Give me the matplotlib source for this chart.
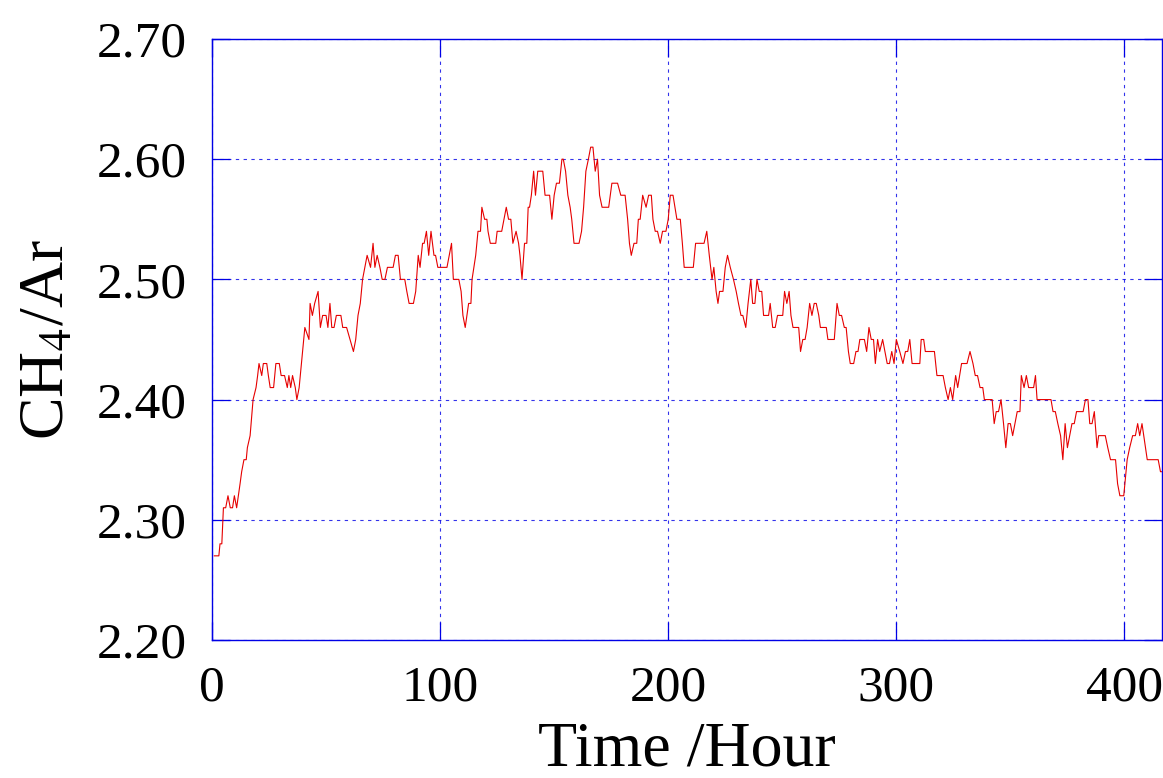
import matplotlib
matplotlib.use("Agg")
import matplotlib.pyplot as plt

plt.rcParams['font.family'] = ['Liberation Serif', 'DejaVu Serif']
plt.rcParams['mathtext.fontset'] = 'stix'

# Elapsed time (hours) and measured CH4/Ar ratio
hours = [
    1, 3, 3.5, 4.3, 5, 6, 7, 8, 9, 9.8, 10.8, 12.3, 13, 14, 15, 15.5, 16.7, 18,
    19.3, 20, 20.6, 21.8, 22.5, 24, 24.7, 25.5, 27, 28, 29.5, 30.3, 31.8, 33,
    33.7, 34.5, 35.3, 36.5, 37.2, 38.2, 40.7, 42.5, 43, 44, 45, 46.5, 47.5,
    48.5, 50, 50.8, 51.7, 52.5, 53.5, 54.5, 56.5, 57.3, 59, 60.5, 62, 63, 64,
    65, 66, 67, 68, 69.5, 70.6, 71.4, 72.4, 73.6, 74.6, 75.8, 76.9, 79.4, 80.4,
    81.6, 82.6, 84.5, 85.4, 86.4, 88.3, 89.3, 90.4, 91.2, 92.3, 93, 94, 95, 96,
    97.3, 98, 99, 103, 104, 105, 105.8, 108.2, 109.2, 110, 111, 112.5, 113.5,
    114, 115.6, 116.6, 117.7, 118.3, 119.5, 120.5, 121, 122, 124.4, 125, 127,
    128, 129, 130, 131, 131.9, 133.3, 134.4, 135, 135.9, 137, 138, 138.6,
    139.2, 140, 141, 141.8, 142.8, 144, 145, 146, 148, 149, 150, 151, 152.3,
    153.4, 154, 155, 156, 157, 157.7, 158.7, 160.9, 162, 162.9, 163.9, 165,
    166, 167, 168, 169, 169.9, 171, 173.9, 175.3, 177.8, 179.2, 181.1, 182.2,
    183, 183.8, 185, 186.2, 186.9, 187.7, 188.8, 190.3, 191.4, 192.6, 193.3,
    194.3, 195.3, 196.5, 197.5, 199, 200, 200.9, 202.1, 203.8, 205.3, 206.2,
    207, 211, 212, 215.7, 216.9, 218, 219.2, 220, 221, 221.8, 222.5, 224, 225,
    226, 227.2, 228.6, 229.8, 230.8, 231.9, 232.7, 234, 235, 236.2, 237, 238,
    238.9, 239.9, 241, 241.8, 244, 244.7, 245.8, 246.9, 247.9, 250.2, 251, 252,
    253, 253.8, 254.7, 257.2, 258, 259, 260, 260.9, 262, 263, 264, 264.9, 266,
    266.7, 269.3, 270, 272.8, 274, 275, 276, 277.2, 278, 279, 279.8, 281.3,
    282.3, 283.2, 284, 286, 287, 288, 289, 290, 290.8, 291.8, 292.7, 294, 295,
    296, 297, 298, 299, 300, 301.5, 302.9, 304, 305, 305.9, 306.9, 310.3,
    310.9, 312, 312.7, 316.7, 317.8, 320.5, 321.5, 322.7, 323.7, 324.7, 326,
    326.9, 328.6, 331, 332.3, 333.6, 334.6, 335.6, 336.7, 337.9, 338.6, 342,
    342.9, 343.8, 344.8, 345.9, 347, 348, 349, 350, 351, 352, 353, 354.2,
    354.8, 356, 357, 358, 360.2, 361, 361.7, 367.8, 368.7, 369.7, 370.8, 372,
    373, 374, 375, 376, 377, 378, 379, 381.9, 382.9, 384, 384.8, 385.8, 386.8,
    388, 388.7, 391.6, 392.7, 393.9, 396.1, 397, 398, 399.7, 401.2, 402.3,
    403.6, 404.8, 405.8, 406.7, 407.7, 410, 414.8, 415.8, 417,
]
ratio = [
    2.27, 2.27, 2.28, 2.28, 2.31, 2.31, 2.32, 2.31, 2.31, 2.32, 2.31, 2.33,
    2.34, 2.35, 2.35, 2.36, 2.37, 2.40, 2.41, 2.42, 2.43, 2.42, 2.43, 2.43,
    2.42, 2.41, 2.41, 2.43, 2.43, 2.42, 2.42, 2.41, 2.42, 2.41, 2.42, 2.41,
    2.40, 2.41, 2.46, 2.45, 2.48, 2.47, 2.48, 2.49, 2.46, 2.47, 2.47, 2.46,
    2.48, 2.46, 2.46, 2.47, 2.47, 2.46, 2.46, 2.45, 2.44, 2.45, 2.47, 2.48,
    2.50, 2.51, 2.52, 2.51, 2.53, 2.51, 2.52, 2.51, 2.50, 2.50, 2.51, 2.51,
    2.52, 2.52, 2.50, 2.50, 2.49, 2.48, 2.48, 2.49, 2.52, 2.51, 2.53, 2.53,
    2.54, 2.52, 2.54, 2.52, 2.52, 2.51, 2.51, 2.52, 2.53, 2.50, 2.50, 2.49,
    2.47, 2.46, 2.48, 2.48, 2.50, 2.52, 2.54, 2.54, 2.56, 2.55, 2.55, 2.54,
    2.53, 2.53, 2.54, 2.54, 2.55, 2.56, 2.55, 2.55, 2.53, 2.54, 2.53, 2.52,
    2.50, 2.53, 2.53, 2.56, 2.56, 2.57, 2.59, 2.57, 2.59, 2.59, 2.59, 2.57,
    2.57, 2.55, 2.57, 2.58, 2.58, 2.60, 2.60, 2.59, 2.57, 2.56, 2.55, 2.53,
    2.53, 2.54, 2.56, 2.59, 2.60, 2.61, 2.61, 2.59, 2.60, 2.57, 2.56, 2.56,
    2.58, 2.58, 2.57, 2.57, 2.55, 2.53, 2.52, 2.53, 2.53, 2.55, 2.55, 2.57,
    2.56, 2.57, 2.57, 2.55, 2.54, 2.54, 2.53, 2.54, 2.54, 2.55, 2.57, 2.57,
    2.55, 2.55, 2.53, 2.51, 2.51, 2.53, 2.53, 2.54, 2.52, 2.50, 2.51, 2.49,
    2.48, 2.49, 2.49, 2.51, 2.52, 2.51, 2.50, 2.49, 2.48, 2.47, 2.47, 2.46,
    2.48, 2.50, 2.48, 2.48, 2.50, 2.49, 2.49, 2.47, 2.47, 2.48, 2.46, 2.46,
    2.47, 2.47, 2.49, 2.48, 2.49, 2.47, 2.46, 2.46, 2.44, 2.45, 2.45, 2.46,
    2.48, 2.47, 2.48, 2.48, 2.47, 2.46, 2.46, 2.45, 2.45, 2.48, 2.47, 2.47,
    2.46, 2.46, 2.44, 2.43, 2.43, 2.44, 2.44, 2.45, 2.45, 2.44, 2.46, 2.45,
    2.45, 2.43, 2.45, 2.44, 2.45, 2.44, 2.43, 2.43, 2.44, 2.43, 2.45, 2.44,
    2.43, 2.44, 2.44, 2.45, 2.43, 2.43, 2.45, 2.45, 2.44, 2.44, 2.42, 2.42,
    2.41, 2.40, 2.41, 2.40, 2.42, 2.41, 2.43, 2.43, 2.44, 2.43, 2.42, 2.42,
    2.41, 2.41, 2.40, 2.40, 2.38, 2.39, 2.39, 2.40, 2.38, 2.36, 2.38, 2.38,
    2.37, 2.38, 2.39, 2.39, 2.42, 2.41, 2.42, 2.41, 2.41, 2.42, 2.40, 2.40,
    2.39, 2.39, 2.38, 2.37, 2.35, 2.38, 2.36, 2.37, 2.38, 2.38, 2.39, 2.39,
    2.40, 2.40, 2.38, 2.38, 2.39, 2.36, 2.37, 2.37, 2.36, 2.35, 2.35, 2.33,
    2.32, 2.32, 2.35, 2.36, 2.37, 2.37, 2.38, 2.37, 2.38, 2.35, 2.35, 2.34,
    2.34,
]

x_ticks = [0, 100, 200, 300, 400]
y_ticks = [2.20, 2.30, 2.40, 2.50, 2.60, 2.70]

blue = '#0000e6'

fig = plt.figure(figsize=(11.63, 7.78), dpi=100)
ax = fig.add_axes([0.1823, 0.1774, 0.8169, 0.7725])

ax.plot(hours, ratio, color='#e60000', lw=0.8, zorder=3)

ax.set_xlim(0, 416.5)
ax.set_ylim(2.20, 2.70)
ax.set_xticks(x_ticks)
ax.set_yticks(y_ticks)
ax.set_yticklabels([f'{v:.2f}' for v in y_ticks])

ax.grid(True, color=blue, linestyle=(0, (3, 4)), lw=0.8, alpha=0.8)
for s in ax.spines.values():
    s.set_color(blue)
    s.set_linewidth(1.0)

ax.tick_params(axis='both', direction='in', length=13, width=0.9, color=blue,
               labelsize=37, top=True, right=True)
ax.tick_params(axis='y', pad=18)
ax.tick_params(axis='x', pad=18)

ax.set_xlabel('Time /Hour', fontsize=46, labelpad=7)
ax.set_ylabel(r'CH$_{\mathrm{4}}$/Ar', fontsize=46, labelpad=14)

fig.savefig('out.png', dpi=100)
